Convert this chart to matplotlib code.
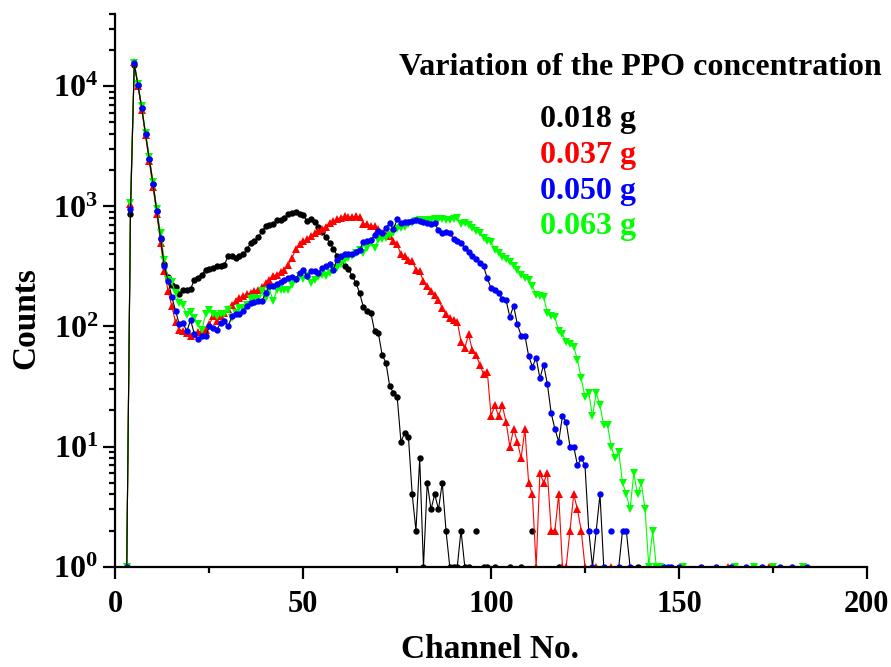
import numpy as np
import matplotlib
matplotlib.use("Agg")
import matplotlib.pyplot as plt
from matplotlib.ticker import MultipleLocator, LogLocator, FuncFormatter, NullFormatter

plt.rcParams['font.family'] = ['Liberation Serif', 'DejaVu Serif']
plt.rcParams['font.weight'] = 'bold'
plt.rcParams['mathtext.fontset'] = 'custom'
plt.rcParams['mathtext.rm'] = 'Liberation Serif'
plt.rcParams['mathtext.bf'] = 'Liberation Serif:bold'

## Spectra: counts per channel, first channel = 3. 0 counts = gap on the log axis
first_channel = 3
last_channel = 185

black_counts = [1, 857, 15000, 10200, 6600, 4000, 2500, 1540, 920, 540,
                330, 260, 220, 212, 188, 200, 203, 205, 246, 255,
                270, 298, 300, 307, 316, 320, 325, 390, 386, 373,
                386, 398, 438, 498, 514, 555, 622, 685, 695, 717,
                765, 765, 805, 858, 886, 900, 870, 845, 754, 790,
                740, 670, 612, 560, 500, 445, 390, 355, 320, 300,
                265, 232, 190, 145, 134, 130, 91, 88, 58, 50,
                32, 28, 26, 11, 13, 12, 4, 2, 8, 1,
                5, 3, 4, 3, 5, 2, 1, 1, 1, 2,
                1, 1, 0, 2, 0, 1, 1, 0, 1, 0,
                0, 0, 1, 0, 0, 1, 0, 0, 2]
black_extra_ch = [118, 139]
black_extra_n = [1, 1]

red_counts = [1, 1040, 15800, 10000, 6400, 3900, 2400, 1450, 870, 500,
              290, 197, 148, 108, 94, 91, 88, 83, 86, 90,
              92, 94, 104, 122, 112, 122, 130, 140, 152, 163,
              173, 178, 185, 190, 197, 203, 214, 231, 246, 262,
              271, 285, 298, 328, 373, 438, 482, 514, 531, 565,
              603, 622, 650, 680, 730, 754, 778, 805, 830, 810,
              819, 830, 819, 720, 708, 685, 685, 643, 603, 580,
              565, 520, 482, 398, 385, 360, 350, 298, 288, 238,
              216, 196, 184, 165, 143, 126, 118, 114, 110, 75,
              66, 86, 64, 58, 48, 40, 42, 18, 22, 18,
              22, 16, 10, 14, 11, 8, 14, 5, 4, 1,
              6, 5, 6, 2, 2, 4, 1, 1, 2, 4,
              3, 2, 1, 0, 0, 1, 0, 0, 0, 1]
red_extra_ch = [163, 174]
red_extra_n = [1, 1]

blue_counts = [1, 944, 15500, 10200, 6600, 4000, 2500, 1540, 920, 548,
               322, 238, 177, 135, 104, 107, 91, 114, 86, 78,
               83, 83, 100, 97, 94, 107, 111, 100, 122, 126,
               128, 135, 148, 157, 159, 163, 163, 191, 217, 217,
               224, 235, 246, 254, 259, 249, 280, 298, 262, 288,
               288, 280, 307, 322, 329, 298, 361, 385, 405, 405,
               398, 420, 437, 504, 514, 530, 573, 622, 603, 664,
               721, 650, 778, 730, 740, 740, 754, 769, 750, 740,
               721, 708, 721, 634, 603, 611, 603, 537, 514, 497,
               452, 420, 385, 366, 340, 318, 251, 209, 203, 190,
               170, 165, 120, 149, 104, 84, 84, 57, 46, 55,
               37, 48, 33, 19, 14, 11, 18, 16, 10, 10,
               7, 8, 7, 2, 1, 2, 4, 1, 0, 2,
               0, 1, 2, 2, 1]
blue_extra_ch = [146, 147, 148, 150, 156, 160, 164, 168, 172, 177, 180, 184]
blue_extra_n = [1] * len(blue_extra_ch)

green_counts = [1, 1074, 15700, 10400, 6800, 4100, 2600, 1600, 960, 600,
                361, 243, 234, 191, 157, 150, 124, 132, 117, 104,
                94, 126, 138, 128, 122, 128, 128, 138, 118, 130,
                143, 143, 150, 168, 173, 168, 197, 173, 203, 163,
                203, 203, 200, 203, 220, 246, 262, 249, 262, 230,
                246, 259, 266, 265, 280, 298, 307, 329, 361, 372,
                385, 410, 437, 410, 452, 497, 452, 530, 537, 547,
                575, 603, 643, 660, 676, 708, 721, 754, 769, 754,
                769, 769, 778, 769, 789, 769, 769, 780, 804, 708,
                721, 700, 664, 622, 603, 547, 513, 504, 437, 410,
                380, 366, 343, 320, 298, 271, 254, 246, 216, 184,
                179, 176, 130, 122, 120, 91, 86, 75, 71, 68,
                53, 37, 26, 28, 18, 28, 22, 15, 15, 10,
                8, 9, 5, 4, 3, 6, 4, 5, 3, 1,
                2, 1, 1]
green_extra_ch = [151, 165, 170, 175, 183]
green_extra_n = [1] * len(green_extra_ch)

legend_title = "Variation of the PPO concentration"
legend_labels = ["0.018 g", "0.037 g", "0.050 g", "0.063 g"]

channels = np.arange(first_channel, last_channel + 1)


def full_spectrum(main, extra_ch, extra_n):
    """Coloca os valores num array completo; zero vira NaN (buraco no log)"""
    counts = np.zeros(len(channels))
    counts[:len(main)] = main
    counts[np.array(extra_ch) - first_channel] = extra_n
    return np.where(counts > 0, counts, np.nan)


fig = plt.figure(figsize=(8.91, 6.67), dpi=100)
ax = fig.add_axes([0.1296, 0.1504, 0.8431, 0.8286])

# (counts, extras, marker, marker colour, line colour, size)
series = [
    (black_counts, black_extra_ch, black_extra_n, "o", "black", "black", 4.6),
    (red_counts, red_extra_ch, red_extra_n, "^", "red", "red", 5.6),
    (green_counts, green_extra_ch, green_extra_n, "v", "#00FF00", "#00FF00", 5.6),
    (blue_counts, blue_extra_ch, blue_extra_n, "o", "blue", "black", 4.6),
]
for main, ech, en, mk, mcol, lcol, ms in series:
    ax.plot(channels, full_spectrum(main, ech, en), color=lcol, lw=0.8,
            marker=mk, ms=ms, mfc=mcol, mec=mcol, mew=0)

ax.set_yscale("log")
ax.set_xlim(0, 200)
ax.set_ylim(1, 4e4)

ax.xaxis.set_major_locator(MultipleLocator(50))
ax.xaxis.set_minor_locator(MultipleLocator(25))
ax.yaxis.set_major_locator(LogLocator(base=10, numticks=10))
ax.yaxis.set_minor_locator(LogLocator(base=10, subs=np.arange(2, 10), numticks=20))
ax.yaxis.set_minor_formatter(NullFormatter())
ax.yaxis.set_major_formatter(FuncFormatter(lambda v, p: r"$\mathbf{10^{%d}}$" % round(np.log10(v))))

for side in ["top", "right"]:
    ax.spines[side].set_visible(False)
for side in ["left", "bottom"]:
    ax.spines[side].set_linewidth(1.6)

ax.tick_params(which="major", direction="out", length=8.5, width=1.6, labelsize=22, pad=4)
ax.tick_params(axis="y", which="major", labelsize=23)
ax.tick_params(which="minor", direction="out", length=4.5, width=1.6)
ax.tick_params(axis="x", pad=8)
for lab in ax.get_xticklabels():
    lab.set_fontweight("bold")

ax.set_xlabel("Channel No.", fontsize=24, fontweight="bold")
ax.xaxis.set_label_coords(0.4985, -0.122)
ax.set_ylabel("Counts", fontsize=24, fontweight="bold")
ax.yaxis.set_label_coords(-0.098, 0.45)

# legenda escrita como texto colorido
fig.text(640 / 891, 1 - 75 / 667, legend_title, fontsize=23, fontweight="bold",
         ha="center", va="baseline")
colors = ["black", "red", "blue", "#00FF00"]
baselines = [127.5, 163, 198.5, 234]
for lab, col, yb in zip(legend_labels, colors, baselines):
    fig.text(540 / 891, 1 - yb / 667, lab, fontsize=23, fontweight="bold",
             color=col, ha="left", va="baseline")

fig.savefig("out.png", dpi=100)
